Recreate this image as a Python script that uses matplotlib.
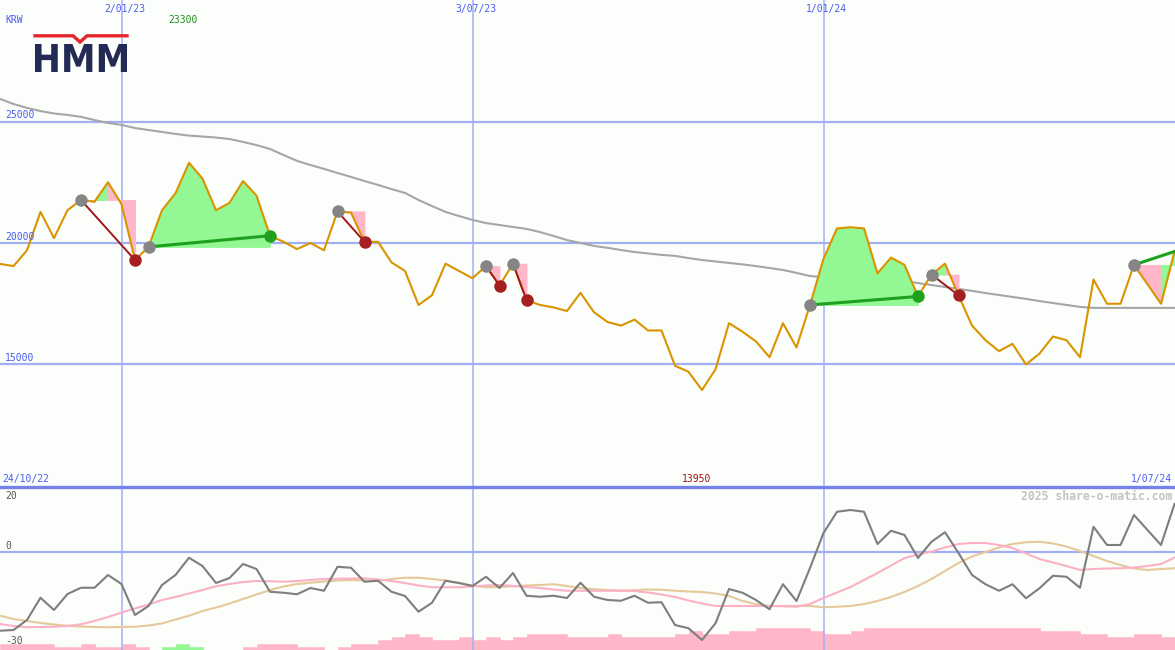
import matplotlib
matplotlib.use("Agg")
import matplotlib.pyplot as plt
import numpy as np
from matplotlib.textpath import TextPath
from matplotlib.font_manager import FontProperties
from matplotlib.patches import PathPatch
from matplotlib.transforms import Affine2D

# ---------------- data (weekly, 31/10/22 .. 1/07/24) ----------------
price = [19140, 19050, 19700, 21280, 20200, 21350, 21770, 21700, 22500, 21600,
         19300, 19840, 21350, 22050, 23300, 22650, 21350, 21650, 22550, 21950,
         20300, 20050, 19750, 20000, 19700, 21300, 21250, 20050, 20050, 19200,
         18850, 17450, 17850, 19150, 18850, 18550, 19050, 18250, 19150, 17650,
         17450, 17350, 17200, 17950, 17150, 16750, 16600, 16850, 16400, 16400,
         14950, 14700, 13950, 14800, 16700, 16350, 15950, 15300, 16700, 15700,
         17450, 19350, 20600, 20650, 20600, 18750, 19400, 19100, 17800, 18700,
         19150, 17850, 16600, 16000, 15550, 15850, 15000, 15450, 16150, 16000,
         15300, 18500, 17500, 17500, 19100, 18300, 17500, 19650]

ma_long = [25930, 25720, 25560, 25430, 25330, 25270, 25190, 25060, 24940, 24860,
           24730, 24650, 24570, 24490, 24420, 24380, 24340, 24280, 24160, 24030,
           23870, 23620, 23380, 23210, 23050, 22880, 22720, 22550, 22390, 22220,
           22060, 21770, 21520, 21280, 21110, 20950, 20820, 20740, 20660, 20580,
           20450, 20290, 20120, 20000, 19880, 19800, 19710, 19630, 19570, 19510,
           19470, 19380, 19300, 19240, 19180, 19120, 19050, 18970, 18890, 18770,
           18640, 18600, 18600, 18600, 18580, 18560, 18520, 18440, 18350, 18270,
           18190, 18110, 18030, 17940, 17860, 17780, 17700, 17610, 17530, 17450,
           17370, 17330, 17330, 17330, 17330, 17330, 17330, 17330]

osc = [-31.7, -31.4, -27.4, -18.5, -23.4, -17.0, -14.5, -14.5, -9.4, -13.0,
       -25.4, -21.8, -13.4, -9.4, -2.5, -5.8, -12.6, -10.6, -5.0, -7.0,
       -16.1, -16.5, -17.1, -14.6, -15.7, -6.1, -6.5, -12.1, -11.7, -16.1,
       -17.8, -24.1, -20.5, -11.7, -12.6, -13.8, -10.1, -14.6, -8.6, -17.7,
       -18.1, -17.7, -18.6, -12.5, -18.1, -19.4, -19.7, -17.7, -20.5, -20.3,
       -29.4, -30.7, -35.4, -28.7, -15.0, -16.5, -19.4, -23.1, -13.1, -19.8,
       -6.6, 7.4, 15.9, 16.6, 15.9, 3.0, 8.3, 6.6, -2.6, 3.9,
       7.7, -0.6, -9.4, -13.1, -15.7, -13.1, -18.7, -14.7, -9.7, -10.1,
       -14.5, 9.9, 2.6, 2.6, 14.6, 8.6, 2.6, 19.0]

osc_mid = [-29.0, -29.8, -30.3, -30.2, -30.1, -29.8, -29.1, -27.8, -26.2, -24.4,
           -22.8, -21.2, -19.4, -18.2, -16.8, -15.4, -13.9, -13.0, -12.2, -11.8,
           -11.9, -12.1, -11.8, -11.4, -11.0, -10.9, -10.8, -10.7, -11.2, -11.8,
           -12.6, -13.6, -14.3, -14.3, -14.3, -14.0, -13.6, -13.4, -13.8, -14.2,
           -14.6, -15.2, -15.7, -15.7, -15.7, -15.7, -15.7, -15.8, -16.4, -17.2,
           -18.2, -19.6, -20.8, -21.8, -21.8, -21.8, -21.8, -21.8, -21.9, -22.1,
           -21.0, -18.6, -16.4, -14.2, -11.4, -8.6, -5.6, -2.6, -1.2, 0.0,
           1.6, 3.0, 3.4, 3.4, 2.6, 1.4, -0.8, -3.0, -4.4, -5.8,
           -7.4, -7.0, -6.8, -6.7, -6.4, -5.8, -5.0, -2.4]

osc_slow = [-25.7, -27.0, -27.8, -28.6, -29.2, -29.7, -30.0, -30.2, -30.3, -30.2,
            -30.1, -29.6, -28.8, -27.2, -25.7, -23.8, -22.4, -20.8, -19.0, -17.2,
            -15.4, -14.0, -13.0, -12.5, -12.0, -11.6, -11.4, -11.6, -11.8, -11.0,
            -10.5, -10.5, -11.0, -11.6, -12.6, -13.6, -14.3, -14.2, -13.9, -13.6,
            -13.4, -13.1, -13.8, -14.6, -15.1, -15.4, -15.7, -15.5, -15.2, -15.3,
            -15.7, -16.0, -16.2, -16.8, -17.8, -19.8, -21.0, -21.8, -21.8, -21.8,
            -21.8, -22.3, -22.1, -21.8, -21.0, -19.8, -18.2, -16.2, -13.8, -11.0,
            -7.8, -4.6, -2.0, -0.2, 1.6, 3.0, 3.7, 3.9, 3.2, 2.0,
            0.2, -1.8, -3.8, -5.4, -6.8, -7.4, -7.0, -6.7]

bar_vals = [2, 2, 2, 2, 1, 1, 2, 1, 1, 2,
            1, 0, 1, 2, 1, 0, 0, 0, 1, 2,
            2, 2, 1, 1, 0, 1, 2, 2, 3, 4,
            5, 4, 3, 3, 4, 3, 4, 3, 4, 5,
            5, 5, 4, 4, 4, 5, 4, 4, 4, 4,
            5, 6, 5, 5, 6, 6, 7, 7, 7, 7,
            6, 5, 5, 6, 7, 7, 7, 7, 7, 7,
            7, 7, 7, 7, 7, 7, 7, 6, 6, 6,
            5, 5, 4, 4, 5, 5, 4]
bar_green_idx = [12, 13, 14]

trade_entry = [6, 11, 25, 36, 38, 60, 69, 84]
trade_exit = [10, 20, 27, 37, 39, 68, 71, 87]
trade_closed = [True, True, True, True, True, True, True, False]

date_idx = [9, 35, 61]
date_labels = ["2/01/23", "3/07/23", "1/01/24"]
price_grid = [25000, 20000, 15000]
start_label, end_label = "24/10/22", "1/07/24"
currency = "KRW"

# ---------------- styling ----------------
W, H = 1175, 650
BG = "#FBFEFB"
GRID = "#A3AFF3"
SEP = "#7482EA"
BLUE_TXT = "#4B5CF0"
ORANGE = "#D99400"
PINK = "#FFB6C8"
GREEN = "#93F793"
MONO = "DejaVu Sans Mono"

fig = plt.figure(figsize=(W / 100, H / 100), dpi=100)
fig.patch.set_facecolor(BG)

ax = fig.add_axes([0, 164 / H, 1, 486 / H])
axb = fig.add_axes([0, 0, 1, 163 / H])
for a in (ax, axb):
    a.set_facecolor(BG)
    a.set_xlim(0, W / 13.5)
    a.set_xticks([])
    a.set_yticks([])
    for s in a.spines.values():
        s.set_visible(False)
    for d in date_idx:
        a.axvline(d, color=GRID, lw=1.1, zorder=1)

x = np.arange(len(price))
p = np.array(price, dtype=float)

# ---------------- main panel ----------------
ax.set_ylim(10000, 30000)
for g in price_grid:
    ax.axhline(g, color=GRID, lw=1.6, zorder=1)
    ax.text(0.37, g + 250, str(g), color=BLUE_TXT, fontsize=7, family=MONO,
            ha="left", va="center", zorder=6)

ax.plot(x, ma_long, color="#A6A6A6", lw=1.5, zorder=2)

# trade shading: between price and entry level, coloured by segment end vs entry
for e, q in zip(trade_entry, trade_exit):
    lvl = p[e]
    for i in range(e, q):
        col = GREEN if p[i + 1] > lvl else PINK
        ax.fill_between([i, i + 1], [p[i], p[i + 1]], lvl, facecolor=col,
                        edgecolor=col, lw=0.6, zorder=3)

ax.plot(x, p, color=ORANGE, lw=1.5, zorder=4)

for e, q, closed in zip(trade_entry, trade_exit, trade_closed):
    win = p[q] > p[e]
    lc = "#1FA01F" if win else "#A01818"
    ax.plot([e, q], [p[e], p[q]], color=lc, lw=2.2 if win else 1.4, zorder=5)
    ax.plot(e, p[e], "o", color="#858585", ms=9, mec="none", zorder=6)
    if closed:
        ax.plot(q, p[q], "o", color="#1FA01F" if win else "#A52020", ms=9, mec="none", zorder=6)

imax, imin = int(np.argmax(p)), int(np.argmin(p))
ax.text(imax - 0.45, 29180, f"{int(p[imax])}", color="#1E8E1E", fontsize=7, family=MONO,
        ha="center", va="center")
ax.text(imin - 0.37, 10290, f"{int(p[imin])}", color="#A01010", fontsize=7, family=MONO,
        ha="center", va="center")
ax.text(0.37, 29180, currency, color=BLUE_TXT, fontsize=7, family=MONO, ha="left", va="center")
for d, lab in zip(date_idx, date_labels):
    ax.text(d + 0.25, 29650, lab, color=BLUE_TXT, fontsize=7, family=MONO, ha="center", va="center")
ax.text(0.15, 10290, start_label, color=BLUE_TXT, fontsize=7, family=MONO, ha="left", va="center")
ax.text(W / 13.5 - 0.2, 10290, end_label, color=BLUE_TXT, fontsize=7, family=MONO,
        ha="right", va="center")

# ---------------- bottom panel ----------------
axb.set_ylim(-(650 - 551.5) / 2.5, (551.5 - 487) / 2.5)
axb.axhline(0, color=GRID, lw=1.6, zorder=1)
axb.axhline((551.5 - 486.5) / 2.5, color=SEP, lw=2.4, zorder=7, clip_on=False)

axh = axb.twinx()
axh.set_ylim(0, 163 / 3.2)
axh.set_yticks([])
for s in axh.spines.values():
    s.set_visible(False)
bcols = [GREEN if i in bar_green_idx else PINK for i in range(len(bar_vals))]
axh.bar(np.arange(len(bar_vals)), bar_vals, width=1.0, align="edge", color=bcols,
        edgecolor=bcols, lw=0.4, zorder=1)

axb.set_zorder(axh.get_zorder() + 1)
axb.patch.set_visible(False)
axb.plot(x, osc_slow, color="#E5C99A", lw=1.5, zorder=3)
axb.plot(x, osc_mid, color="#FCB0C6", lw=1.5, zorder=3)
axb.plot(x, osc, color="#7E7E7E", lw=1.5, zorder=4)

for v, lab in [(22.2, "20"), (2.2, "0"), (-35.8, "-30")]:
    axb.text(0.37, v, lab, color="#555555", fontsize=7, family=MONO, ha="left", va="center", zorder=8)
axb.text(W / 13.5 - 0.2, 22.2, "2025 share-o-matic.com", color="#C4C4C4", fontsize=8.3,
         family=MONO, fontweight="bold", ha="right", va="center", zorder=8)

# ---------------- logo (pixel overlay) ----------------
ov = fig.add_axes([0, 0, 1, 1])
ov.set_xlim(0, W)
ov.set_ylim(H, 0)
ov.axis("off")
ov.patch.set_visible(False)
ov.plot([35, 73, 80, 87, 127], [35.8, 35.8, 42, 35.8, 35.8], color="#E8252B", lw=2.4,
        solid_joinstyle="miter")
tp = TextPath((0, 0), "HMM", prop=FontProperties(family="DejaVu Sans", weight="bold"), size=10)
bb = tp.get_extents()
sx = (127 - 35) / bb.width
sy = (72 - 44) / bb.height
tr = Affine2D().translate(-bb.x0, -bb.y0).scale(sx, -sy).translate(35, 72)
ov.add_patch(PathPatch(tr.transform_path(tp), color="#232A56", lw=0))

fig.savefig("out.png", dpi=100, facecolor=BG)
